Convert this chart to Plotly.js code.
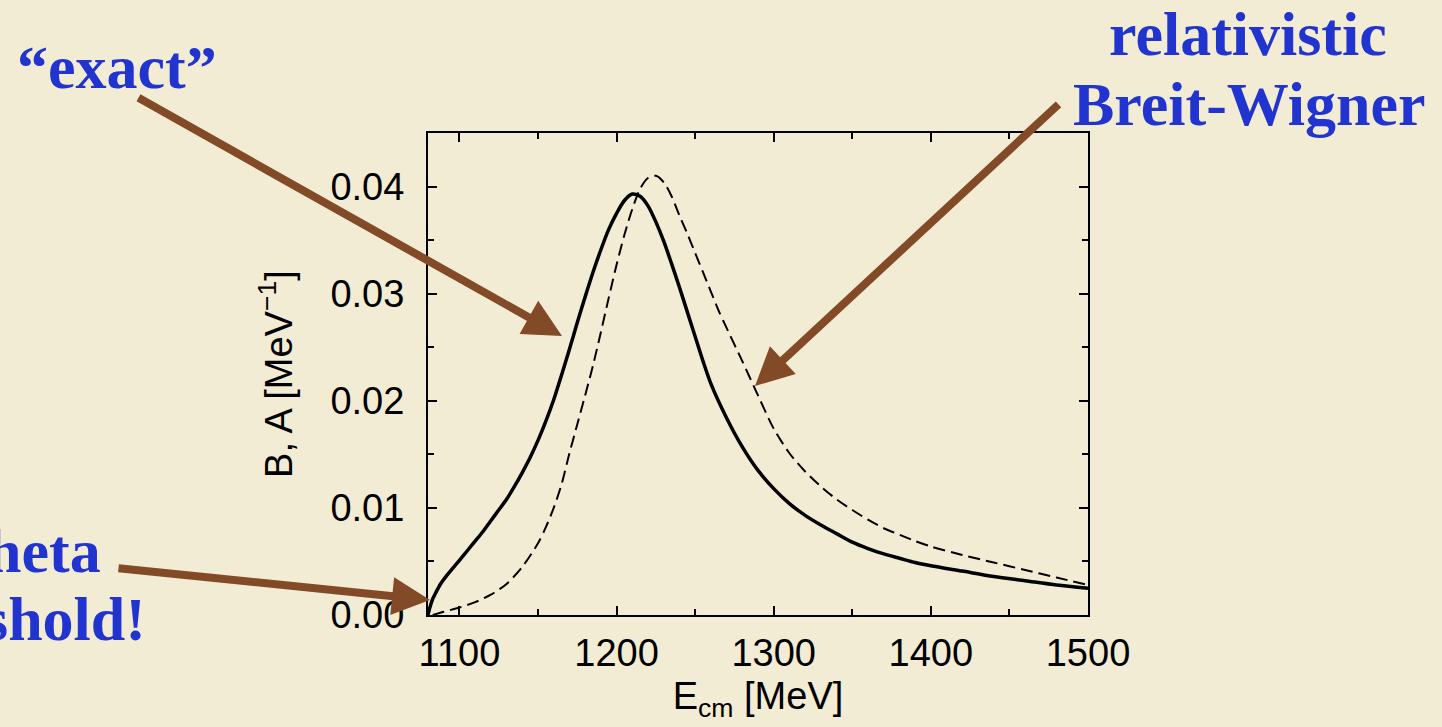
<!DOCTYPE html>
<html>
<head>
<meta charset="utf-8">
<script src="https://cdn.plot.ly/plotly-3.0.1.min.js"></script>
<style>
html,body{margin:0;padding:0;background:#f3ecd4;}
#chart{width:1442px;height:727px;}
</style>
</head>
<body>
<div id="chart"></div>
<script>
// "exact" spectral function (solid)
const exactE = [1080,1081,1083,1085,1088,1092,1096,1100,1105,1110,1115,1120,1125,1130,1135,1140,1145,1150,1155,1160,1165,1170,1175,1180,1185,1190,1195,1200,1205,1210,1215,1220,1225,1230,1235,1240,1245,1250,1255,1260,1270,1280,1290,1300,1310,1320,1330,1340,1350,1360,1370,1380,1390,1400,1420,1440,1460,1480,1500];
const exactVal = [0.0000,0.0006,0.0015,0.0021,0.0029,0.0037,0.0044,0.0051,0.0060,0.0069,0.0078,0.0088,0.0098,0.0108,0.0120,0.0133,0.0147,0.0163,0.0181,0.0201,0.0224,0.0248,0.0273,0.0297,0.0320,0.0341,0.0360,0.0375,0.0387,0.0393,0.0391,0.0382,0.0367,0.0349,0.0328,0.0306,0.0283,0.0260,0.0237,0.0216,0.0184,0.0157,0.0135,0.0118,0.0104,0.0093,0.0084,0.0076,0.0068,0.0062,0.0057,0.0053,0.0049,0.0046,0.0041,0.0036,0.0032,0.0028,0.0025];
// relativistic Breit-Wigner (dashed)
const bwE = [1083,1090,1100,1110,1120,1130,1140,1150,1155,1160,1165,1170,1175,1180,1185,1190,1195,1200,1205,1210,1215,1220,1225,1230,1235,1240,1245,1250,1255,1260,1265,1270,1280,1290,1300,1310,1320,1330,1340,1350,1360,1370,1380,1390,1400,1420,1440,1460,1480,1500];
const bwVal = [0.0000,0.0003,0.0007,0.0012,0.0019,0.0029,0.0045,0.0067,0.0082,0.0100,0.0122,0.0151,0.0178,0.0205,0.0233,0.0264,0.0296,0.0327,0.0355,0.0379,0.0398,0.0408,0.0410,0.0404,0.0391,0.0373,0.0356,0.0338,0.0320,0.0302,0.0284,0.0268,0.0237,0.0205,0.0174,0.0151,0.0134,0.0120,0.0108,0.0098,0.0089,0.0081,0.0075,0.0069,0.0064,0.0056,0.0049,0.0042,0.0035,0.0028];

const xTitle = 'E<sub>cm</sub> [MeV]';
const yTitle = 'B, A [MeV<sup>\u22121</sup>]';

const bg = '#f3ecd4';
const blue = '#2234cf';
const brown = '#834a27';
const labelFont = {family: 'Liberation Serif, Times New Roman, serif', size: 62, color: blue, weight: 'bold'};

const traces = [
  {x: exactE, y: exactVal, mode: 'lines', line: {color: '#000', width: 3.5, shape: 'spline', smoothing: 0.8}, hoverinfo: 'skip'},
  {x: bwE, y: bwVal, mode: 'lines', line: {color: '#000', width: 2, dash: '12px,6px', shape: 'spline', smoothing: 0.8}, hoverinfo: 'skip'}
];

const axisCommon = {
  showline: true, linecolor: '#000', linewidth: 2, mirror: 'ticks',
  ticks: 'inside', ticklen: 9, tickwidth: 2, tickcolor: '#000',
  showgrid: false, zeroline: false,
  tickfont: {family: 'Liberation Sans, Arial, sans-serif', size: 38, color: '#000'}
};

const layout = {
  width: 1442, height: 727,
  paper_bgcolor: bg, plot_bgcolor: 'rgba(0,0,0,0)',
  showlegend: false,
  margin: {l: 428, r: 354, t: 133, b: 112},
  xaxis: Object.assign({}, axisCommon, {
    range: [1080, 1500], dtick: 100, tick0: 1100,
    minor: {dtick: 50, ticks: 'inside', ticklen: 6, tickwidth: 2, tickcolor: '#000', showgrid: false},
    ticklabelstandoff: 3,
    title: {text: xTitle, font: {family: 'Liberation Sans, Arial, sans-serif', size: 38, color: '#000'}, standoff: 10}
  }),
  yaxis: Object.assign({}, axisCommon, {
    range: [0, 0.045], dtick: 0.01, tick0: 0, tickformat: '.2f',
    minor: {dtick: 0.005, ticks: 'inside', ticklen: 6, tickwidth: 2, tickcolor: '#000', showgrid: false},
    ticklabelstandoff: 14,
    title: {text: yTitle, font: {family: 'Liberation Sans, Arial, sans-serif', size: 38, color: '#000'}, standoff: 26}
  }),
  annotations: [
    {xref: 'paper', yref: 'paper', x: (15-428)/660, y: (615-67)/482, xanchor: 'left', yanchor: 'middle', text: '\u201cexact\u201d', showarrow: false, font: labelFont},
    {xref: 'paper', yref: 'paper', x: (1248-428)/660, y: (615-34)/482, xanchor: 'center', yanchor: 'middle', text: 'relativistic', showarrow: false, font: labelFont},
    {xref: 'paper', yref: 'paper', x: (1249-428)/660, y: (615-104)/482, xanchor: 'center', yanchor: 'middle', text: 'Breit-Wigner', showarrow: false, font: labelFont},
    {xref: 'paper', yref: 'paper', x: (103-428)/660, y: (615-551)/482, xanchor: 'right', yanchor: 'middle', text: 'heta', showarrow: false, font: labelFont},
    {xref: 'paper', yref: 'paper', x: (148-428)/660, y: (615-619)/482, xanchor: 'right', yanchor: 'middle', text: 'shold!', showarrow: false, font: labelFont},
    {xref: 'paper', yref: 'paper', x: (562-428)/660, y: (615-336)/482, text: '', showarrow: true, axref: 'pixel', ayref: 'pixel', ax: 137-562, ay: 97-336, arrowcolor: brown, arrowwidth: 8, arrowhead: 2, arrowsize: 0.95, standoff: 0},
    {xref: 'paper', yref: 'paper', x: (755-428)/660, y: (615-386)/482, text: '', showarrow: true, axref: 'pixel', ayref: 'pixel', ax: 1060-755, ay: 103-386, arrowcolor: brown, arrowwidth: 8, arrowhead: 2, arrowsize: 0.95, standoff: 0},
    {xref: 'paper', yref: 'paper', x: (430-428)/660, y: (615-600)/482, text: '', showarrow: true, axref: 'pixel', ayref: 'pixel', ax: 117-430, ay: 568-600, arrowcolor: brown, arrowwidth: 8, arrowhead: 2, arrowsize: 0.95, standoff: 0}
  ]
};

Plotly.newPlot('chart', traces, layout, {displayModeBar: false, staticPlot: true});
</script>
</body>
</html>
